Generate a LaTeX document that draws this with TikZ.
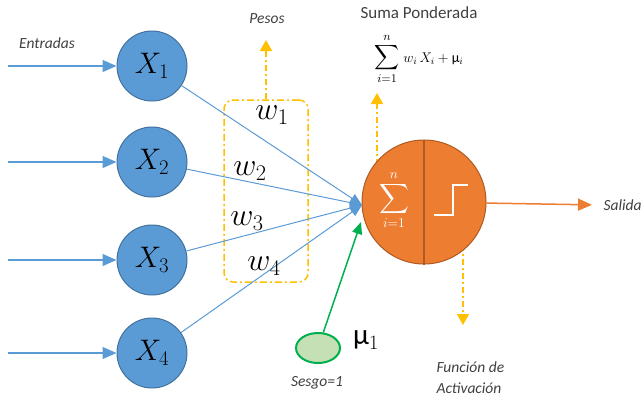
\RequirePackage{fix-cm}
\documentclass[tikz,border=0pt]{standalone}
\usepackage{amsmath}
\usepackage{fontspec}
\setmainfont{Carlito}
\usetikzlibrary{arrows.meta,shapes.geometric}
\definecolor{azul}{HTML}{5B9BD5}
\definecolor{azulborde}{HTML}{41719C}
\definecolor{naranja}{HTML}{ED7D31}
\definecolor{naranjaborde}{HTML}{AE5A21}
\definecolor{amarillo}{HTML}{FFC000}
\definecolor{verde}{HTML}{00B050}
\definecolor{verdeclaro}{HTML}{C5E0B4}
\definecolor{gristexto}{HTML}{404040}
\tikzset{
  % node styles (entradas, neurona, sesgo, etiquetas)
  entrada/.style={circle,draw=azulborde,fill=azul,line width=1pt,minimum size=70pt,inner sep=0pt,font=\fontsize{27}{30}\selectfont},
  neurona/.style={circle,draw=naranjaborde,fill=naranja,line width=1pt,minimum size=124pt,inner sep=0pt},
  sesgo/.style={ellipse,draw=verde,fill=verdeclaro,line width=2pt,minimum width=44pt,minimum height=30pt,inner sep=0pt},
  caja/.style={draw=amarillo,line width=1.5pt,rounded corners=9pt,dash pattern=on 7pt off 3pt on 2pt off 3pt},
  etiqueta/.style={text=gristexto,font=\fontsize{15.5}{18}\selectfont\itshape},
  peso/.style={font=\fontsize{29}{31}\selectfont},
  % connector styles
  entradaflecha/.style={draw=azul,line width=1.2pt,-{Triangle[length=14pt,width=12pt]}},
  conexion/.style={draw=azul,line width=1pt,-{Triangle[length=12pt,width=10pt]}},
  sesgoflecha/.style={draw=verde,line width=1.5pt,-{Triangle[length=12pt,width=10pt]}},
  salidaflecha/.style={draw=naranja,line width=1.5pt,-{Triangle[length=14pt,width=12pt]}},
  amarilla/.style={draw=amarillo,line width=1.5pt,dash pattern=on 6pt off 3pt on 2pt off 3pt,-{Triangle[length=11pt,width=12pt]}},
}
\begin{document}
\begin{tikzpicture}[x=1pt,y=-1pt]
  \useasboundingbox (0,0) rectangle (644,399);
  % caja de pesos
  \node[caja,minimum width=84pt,minimum height=182pt] (caja) at (266,191) {};
  \coordinate (pesostip) at (266,40);
  \draw[amarilla] (caja.north) -- (pesostip);
  \node[etiqueta] (pesos) at (267,19) {Pesos};
  % entradas
  \node[entrada] (x1) at (152,66) {\scalebox{1.1}{$X_1$}};
  \node[entrada] (x2) at (152,162) {\scalebox{1.1}{$X_2$}};
  \node[entrada] (x3) at (152,260) {\scalebox{1.1}{$X_3$}};
  \node[entrada] (x4) at (152,353) {\scalebox{1.1}{$X_4$}};
  \node[etiqueta] (entradas) at (47,43) {Entradas};
  \coordinate (in1) at (8,66);
  \coordinate (in2) at (8,162);
  \coordinate (in3) at (8,260);
  \coordinate (in4) at (8,353);
  \foreach \i in {1,...,4} {
    \draw[entradaflecha] (in\i) -- (x\i);
  }
  % neurona
  \coordinate (suma) at (362,205);
  \coordinate (sumatip) at (377,93);
  \coordinate (sumabase) at (377,165);
  \coordinate (activtip) at (463,325);
  \coordinate (activbase) at (463,245);
  \draw[amarilla] (sumabase) -- (sumatip);
  \draw[amarilla] (activbase) -- (activtip);
  \node[neurona] (neurona) at (424,202) {};
  \draw[naranjaborde,line width=1.2pt] (neurona.north) -- (neurona.south);
  \node[text=white,font=\fontsize{16}{18}\selectfont,inner sep=0pt] (sigma) at (394,200) {\scalebox{1.2}{$\displaystyle\sum_{i=1}^{n}$}};
  \draw[white,line width=1.8pt] (434,215) -- (453,215) -- (453,185) -- (468,185);
  \foreach \i in {1,...,4} {
    \draw[conexion] (x\i) -- (suma);
  }
  % pesos
  \node[peso] (w1) at (272,115) {\scalebox{1.1}{$w_1$}};
  \node[peso] (w2) at (250,171) {\scalebox{1.1}{$w_2$}};
  \node[peso] (w3) at (247,221) {\scalebox{1.1}{$w_3$}};
  \node[peso] (w4) at (264,266) {\scalebox{1.1}{$w_4$}};
  % sesgo
  \node[sesgo] (sesgo) at (318,348) {};
  \coordinate (sesgotip) at (361,222);
  \draw[sesgoflecha] (sesgo) -- (sesgotip);
  \node[font=\fontsize{29}{31}\selectfont] (mu) at (366,340) {$\text{μ}_1$};
  \node[etiqueta] (sesgolbl) at (317,383) {Sesgo=1};
  % salida
  \node[etiqueta,anchor=west] (salida) at (600,205) {Salida};
  \draw[salidaflecha,shorten >=8pt] (neurona) -- (salida.west);
  % textos
  \node[text=gristexto,font=\fontsize{17}{19}\selectfont,inner sep=1pt] (ponderada) at (419,13) {Suma Ponderada};
  \node[font=\fontsize{14}{16}\selectfont,inner sep=1pt] (formula) at (419,59) {\scalebox{1.2}{$\displaystyle\sum_{i=1}^{n}$}$\;w_i\,X_i+\text{μ}_i$};
  \node[etiqueta,anchor=west,align=left] (activacion) at (433,378) {Función de\\[3pt]Activación};
\end{tikzpicture}
\end{document}
